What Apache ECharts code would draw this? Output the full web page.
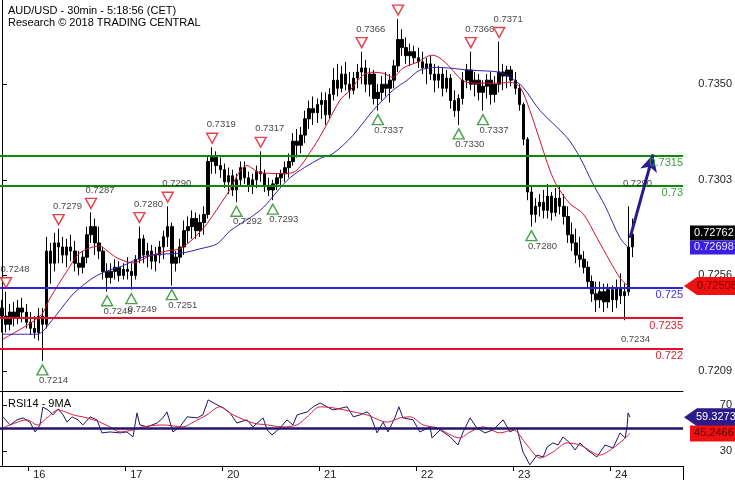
<!DOCTYPE html>
<html><head><meta charset="utf-8">
<script src="https://cdn.jsdelivr.net/npm/echarts@6/dist/echarts.min.js"></script>
<style>html,body{margin:0;padding:0;background:#fff}#c{width:735px;height:480px}</style>
</head><body><div id="c"></div>
<script>
// ---------- DATA ----------
const titleText = 'AUD/USD - 30min - 5:18:56 (CET)';
const subTitle = 'Research \u00a9 2018 TRADING CENTRAL';
const rsiTitle = 'RSI14 - 9MA';
const dayLabels = ['16','17','20','21','22','23','24'];
const dayStartIdx = [7, 31, 55, 79, 103, 127, 151];
const priceTicks = [0.7350, 0.7303, 0.7256, 0.7209];
const rsiTicks = [30, 50, 70];
const rsiTickLabels = [30, 70];
// candles: [open, high, low, close]
const candles = [
[.7240,.7244,.7228,.7236],[.7236,.7248,.7228,.7232],[.7232,.7242,.7229,.7238],[.7238,.7243,.7231,.7235],
[.7235,.7244,.7232,.7240],[.7240,.7245,.7233,.7238],[.7238,.7242,.7230,.7233],[.7233,.7238,.7227,.7230],
[.7230,.7236,.7225,.7228],[.7228,.7240,.7224,.7236],[.7236,.7240,.7214,.7232],[.7232,.7275,.7230,.7268],
[.7268,.7272,.7252,.7262],[.7262,.7277,.7258,.7272],[.7272,.7279,.7262,.7270],[.7270,.7275,.7262,.7266],
[.7266,.7274,.7260,.7270],[.7270,.7276,.7263,.7268],[.7268,.7273,.7258,.7262],[.7262,.7268,.7256,.7260],
[.7260,.7268,.7257,.7265],[.7265,.7280,.7262,.7276],[.7276,.7287,.7272,.7280],[.7280,.7284,.7266,.7272],
[.7272,.7280,.7264,.7268],[.7268,.7270,.7254,.7258],[.7258,.7262,.7248,.7255],[.7255,.7262,.7252,.7258],
[.7258,.7264,.7254,.7260],[.7260,.7263,.7253,.7256],[.7256,.7262,.7254,.7259],[.7259,.7265,.7254,.7258],
[.7258,.7262,.7249,.7256],[.7256,.7266,.7254,.7264],[.7264,.7280,.7262,.7274],[.7274,.7276,.7262,.7266],
[.7266,.7272,.7260,.7268],[.7268,.7271,.7259,.7263],[.7263,.7270,.7258,.7266],[.7266,.7273,.7262,.7270],
[.7270,.7278,.7264,.7275],[.7275,.7290,.7270,.7280],[.7280,.7282,.7251,.7262],[.7262,.7268,.7258,.7265],
[.7265,.7274,.7262,.7270],[.7270,.7283,.7266,.7278],[.7278,.7285,.7272,.7280],[.7280,.7288,.7274,.7284],
[.7284,.7287,.7274,.7278],[.7278,.7286,.7275,.7282],[.7282,.7290,.7276,.7286],[.7286,.7315,.7284,.7312],
[.7312,.7319,.7306,.7314],[.7314,.7317,.7306,.7310],[.7310,.7314,.7304,.7308],[.7308,.7311,.7299,.7302],
[.7302,.7309,.7296,.7305],[.7305,.7308,.7295,.7298],[.7298,.7306,.7292,.7303],[.7303,.7312,.7300,.7309],
[.7309,.7312,.7301,.7304],[.7304,.7307,.7297,.7300],[.7300,.7306,.7296,.7303],[.7303,.7310,.7299,.7307],
[.7307,.7317,.7302,.7306],[.7306,.7308,.7297,.7300],[.7300,.7304,.7295,.7298],[.7298,.7303,.7293,.7301],
[.7301,.7306,.7298,.7304],[.7304,.7308,.7300,.7306],[.7306,.7312,.7302,.7309],[.7309,.7316,.7304,.7312],
[.7312,.7326,.7310,.7322],[.7322,.7328,.7314,.7320],[.7320,.7329,.7316,.7325],[.7325,.7337,.7321,.7333],
[.7333,.7342,.7328,.7338],[.7338,.7344,.7330,.7336],[.7336,.7343,.7331,.7340],[.7340,.7346,.7333,.7342],
[.7342,.7346,.7330,.7335],[.7335,.7348,.7333,.7345],[.7345,.7358,.7342,.7352],[.7352,.7360,.7344,.7348],
[.7348,.7359,.7346,.7355],[.7355,.7361,.7347,.7350],[.7350,.7356,.7343,.7347],[.7347,.7356,.7345,.7353],
[.7353,.7360,.7348,.7356],[.7356,.7366,.7350,.7358],[.7358,.7362,.7346,.7350],[.7350,.7358,.7344,.7355],
[.7355,.7357,.7340,.7343],[.7343,.7350,.7337,.7346],[.7346,.7354,.7342,.7350],[.7350,.7356,.7344,.7348],
[.7348,.7355,.7341,.7352],[.7352,.7362,.7348,.7359],[.7359,.7382,.7356,.7372],[.7372,.7377,.7364,.7368],
[.7368,.7373,.7360,.7364],[.7364,.7370,.7359,.7366],[.7366,.7369,.7360,.7363],[.7363,.7368,.7358,.7361],
[.7361,.7366,.7355,.7358],[.7358,.7363,.7350,.7360],[.7360,.7364,.7352,.7355],[.7355,.7360,.7346,.7352],
[.7352,.7359,.7348,.7355],[.7355,.7358,.7344,.7348],[.7348,.7357,.7346,.7353],[.7353,.7355,.7338,.7342],
[.7342,.7347,.7334,.7337],[.7337,.7345,.7330,.7343],[.7343,.7356,.7340,.7352],[.7352,.7360,.7348,.7357],
[.7357,.7366,.7347,.7350],[.7350,.7356,.7344,.7352],[.7352,.7355,.7342,.7346],[.7346,.7352,.7337,.7349],
[.7349,.7355,.7343,.7352],[.7352,.7356,.7340,.7345],[.7345,.7354,.7341,.7350],[.7350,.7371,.7346,.7356],
[.7356,.7360,.7347,.7354],[.7354,.7359,.7348,.7357],[.7357,.7359,.7349,.7352],[.7352,.7356,.7345,.7348],
[.7348,.7350,.7337,.7340],[.7340,.7341,.7320,.7323],[.7323,.7324,.7293,.7297],[.7297,.7300,.7280,.7286],
[.7286,.7294,.7282,.7290],[.7290,.7296,.7285,.7292],[.7292,.7298,.7284,.7288],[.7288,.7301,.7284,.7295],
[.7295,.7297,.7283,.7287],[.7287,.7299,.7285,.7294],[.7294,.7300,.7286,.7290],[.7290,.7296,.7281,.7285],
[.7285,.7290,.7272,.7276],[.7276,.7282,.7268,.7272],[.7272,.7279,.7262,.7266],[.7266,.7275,.7260,.7264],
[.7264,.7268,.7257,.7260],[.7260,.7263,.7250,.7253],[.7253,.7256,.7243,.7247],[.7247,.7253,.7238,.7244],
[.7244,.7253,.7240,.7248],[.7248,.7252,.7238,.7243],[.7243,.7252,.7240,.7249],[.7249,.7251,.7238,.7244],
[.7244,.7254,.7240,.7250],[.7250,.7257,.7242,.7246],[.7246,.7252,.7234,.7248],[.7248,.7290,.7246,.7270],
[.7270,.7284,.7265,.72762]
];
const fastMA = [[0.2,.72247],[9.4,.72360],[11.9,.72449],[16.1,.72582],[19.3,.72671],[24.2,.72705],[26,.72681],[28.5,.72646],[32.4,.72622],[36.6,.72656],[40.8,.72681],[44,.72691],[47.3,.72740],[50.7,.72814],[55.7,.72960],[60.6,.73100],[63.8,.73066],[68.8,.73061],[72,.73066],[77,.73189],[80.2,.73297],[83.6,.73421],[86.1,.73470],[89.3,.73544],[91.8,.73559],[94.3,.73554],[96.7,.73534],[99.2,.73579],[102.7,.73608],[106.4,.73643],[108.4,.73628],[110.8,.73584],[113.3,.73529],[115.1,.73509],[119,.73505],[123.2,.73505],[125.7,.73510],[128.2,.73485],[130.6,.73371],[133.1,.73223],[135.6,.73075],[137.3,.73001],[140.5,.72913],[143.8,.72863],[147.2,.72745],[150.4,.72631],[152.9,.72548],[154.9,.72508]];
const slowMA = [[0.2,.72271],[8.7,.72271],[10.1,.72286],[13.6,.72370],[17.6,.72469],[22.5,.72548],[26,.72582],[29.9,.72607],[32.4,.72631],[35.9,.72656],[40.8,.72666],[44.8,.72671],[49,.72691],[53.2,.72715],[56.4,.72779],[61.4,.72844],[64.6,.72893],[71.3,.73041],[78.7,.73135],[81.9,.73159],[86.8,.73248],[91.8,.73371],[96.7,.73470],[100.2,.73519],[103.4,.73569],[107.6,.73583],[110.8,.73579],[115.8,.73569],[123.2,.73559],[125.7,.73534],[128.9,.73485],[133.1,.73371],[139.8,.73238],[143,.73140],[146.2,.73011],[149.2,.72903],[152.9,.72745],[154.9,.72698]];
const rsi = [[0.2,59.6],[2,52.6],[3.7,57],[5.2,58.7],[6.9,55],[8.2,46.5],[9.4,52.6],[10.1,68],[11.4,65.6],[12.6,61.3],[13.9,66.5],[15.1,61.3],[16.1,55],[17.3,59.6],[18.8,57],[20,52.6],[21.8,59.6],[23.5,57],[24.7,45.7],[26.7,46.5],[29.2,45.7],[30.9,46.5],[32.4,42.2],[33.4,63],[34.1,52.6],[35.9,50.9],[38.4,54.3],[39.8,58.7],[40.8,63.9],[42.3,46.5],[44,50.9],[45.8,59.6],[48.3,58.7],[49.7,61.3],[51,74.3],[53.2,70],[54.7,67.4],[56.4,63],[58.1,54.3],[60.6,57],[62.1,50.9],[64.6,58.7],[65.6,48.3],[66.8,43.9],[68.8,50],[70.5,57],[72,52.6],[73,61.3],[75.5,63.9],[77,68.3],[78.7,71.7],[80.4,68.3],[81.9,65.6],[85.4,68.3],[86.9,59.6],[88.6,61.3],[90.3,63.9],[91.1,61.3],[92.8,45.7],[94.3,55],[95.5,46.5],[97.2,58.7],[98.2,68.3],[99.2,58.7],[101.7,57],[103.4,46.5],[105.9,50.9],[106.4,41.3],[108.4,48.3],[110.9,42.2],[112.8,35.2],[114.1,46.5],[115.8,58.7],[117.5,50],[119.5,45.7],[121.5,48.3],[124,57],[125.7,46.5],[127.4,50],[128.9,29.1],[130.6,18],[132.4,26.5],[133.9,24.8],[134.9,33.5],[136.3,37],[137.6,35.2],[138.8,42.2],[140.5,37],[141.8,30.9],[143,37],[144.8,30.9],[147.2,24.8],[149.2,35.2],[151.2,32.6],[152.9,45.7],[154.2,41.3],[154.7,52.6],[154.9,63],[155.4,59.3273]];
const rsiMA = [[0.2,50],[2,52.6],[6.2,57],[8.7,52.6],[11.1,58.7],[13.9,65.6],[17.6,61.3],[21,58.7],[24.2,55],[26.7,50.9],[29.2,46.5],[32.4,48.3],[34.9,50.9],[39.8,52.6],[44.8,50.9],[47.3,55],[50.7,61.3],[53.9,68.3],[57.2,61.3],[62.1,54.3],[65.6,52.6],[69.5,50.9],[73,52.6],[75.5,59.6],[78.7,68.3],[81.9,67.4],[86.9,63.9],[90.3,61.3],[95.3,55],[98.5,58.7],[101,59.6],[104.2,52.6],[107.6,50],[113.3,41.3],[115.8,46.5],[119,50.9],[123.2,45.7],[126.4,48.3],[129.9,35.2],[133.1,23.9],[136.3,29.1],[139.8,37],[143,35.2],[148,26.5],[151.2,32.6],[153.7,39.6],[155.4,45.2466]];
const levels = [0.7315, 0.7300, 0.7250, 0.7235, 0.7220];
const levelLabels = ['0.7315', '0.73', '0.725', '0.7235', '0.722'];
const highIdx = [1, 14, 22, 34, 41, 52, 64, 89, 98, 116, 123];
const highVal = [0.7248, 0.7279, 0.7287, 0.7280, 0.7290, 0.7319, 0.7317, 0.7366, 0.7382, 0.7366, 0.7371];
const lowIdx = [10, 26, 32, 42, 58, 67, 93, 113, 119, 131];
const lowVal = [0.7214, 0.7248, 0.7249, 0.7251, 0.7292, 0.7293, 0.7337, 0.7330, 0.7337, 0.7280];
const openHighIdx = [155], openHighVal = [0.7290];
const openLowIdx = [154], openLowVal = [0.7234];
const arrowFrom = [155.4, 0.72745], arrowTo = [161.1, 0.73155];
const lastClose = 0.72762, lastSlow = 0.72698, lastFast = 0.72508;
const lastRSI = 59.3273, lastRSIMA = 45.2466;

// ---------- CHART ----------
const N = 169;
const cats = Array.from({length: N}, (_, i) => String(i));
const FONT = "'Liberation Sans', Arial, sans-serif";
const GREEN = '#0b8a0b', BLUE = '#2b24d8', RED = '#e3102a';
const levelColors = [GREEN, GREEN, BLUE, RED, RED];
const levelTextColors = ['#3a9f3a', '#3a9f3a', '#3b30e0', '#e0202e', '#e0202e'];
const chart = echarts.init(document.getElementById('c'), null, {renderer: 'canvas'});

const dayTickPos = dayStartIdx.map(d => d - 0.5);
const dayLabelPos = dayStartIdx.map(d => d + 0.7);

const hiLabels = highIdx.map((x, k) => [x, highVal[k]]).concat(openHighIdx.map((x, k) => [x, openHighVal[k]]));
const loLabels = lowIdx.map((x, k) => [x, lowVal[k]]).concat(openLowIdx.map((x, k) => [x, openLowVal[k]]));

const option = {
  animation: false,
  backgroundColor: '#fff',
  title: [
    {text: titleText + '\n' + subTitle, left: 3, top: 0, textStyle: {fontSize: 11, fontWeight: 'normal', color: '#000', fontFamily: FONT, lineHeight: 12}},
    {text: rsiTitle, left: 3, top: 393, textStyle: {fontSize: 11, fontWeight: 'normal', color: '#000', fontFamily: FONT}}
  ],
  grid: [
    {left: 0, top: 0, width: 683, height: 391},
    {left: 0, top: 391, width: 683, height: 75}
  ],
  xAxis: [
    {type: 'category', gridIndex: 0, data: cats, boundaryGap: true,
     axisLine: {show: true, lineStyle: {color: '#000', width: 1}}, axisTick: {show: false}, axisLabel: {show: false}, splitLine: {show: false}},
    {type: 'value', gridIndex: 0, min: -0.5, max: N - 0.5, show: false},
    {type: 'value', gridIndex: 1, min: -0.5, max: N - 0.5,
     axisLine: {show: true, lineStyle: {color: '#000', width: 1}},
     axisTick: {show: true, length: 5, customValues: dayTickPos, lineStyle: {color: '#000'}},
     axisLabel: {show: true, customValues: dayLabelPos, align: 'left', margin: 3, fontSize: 11, color: '#222', fontFamily: FONT,
       formatter: v => { const k = dayLabelPos.findIndex(p => Math.abs(p - v) < 0.01); return k >= 0 ? dayLabels[k] : ''; }},
     splitLine: {show: false}}
  ],
  yAxis: [
    {type: 'value', gridIndex: 0, position: 'right', min: 0.71992, max: 0.73914,
     axisLine: {show: true, lineStyle: {color: '#000'}},
     axisTick: {show: true, length: 5, customValues: priceTicks, lineStyle: {color: '#000'}},
     axisLabel: {customValues: priceTicks, formatter: v => v.toFixed(4), align: 'right', margin: 49, fontSize: 11, color: '#222', fontFamily: FONT},
     splitLine: {show: false}},
    {type: 'value', gridIndex: 1, position: 'right', min: 17, max: 82,
     axisLine: {show: true, lineStyle: {color: '#000'}},
     axisTick: {show: true, length: 5, customValues: rsiTicks, lineStyle: {color: '#000'}},
     axisLabel: {customValues: rsiTickLabels, formatter: v => String(v), align: 'right', margin: 49, fontSize: 11, color: '#222', fontFamily: FONT},
     splitLine: {show: false}}
  ],
  series: [
    {type: 'candlestick', xAxisIndex: 0, yAxisIndex: 0, barWidth: 3, z: 2,
     data: candles.map(r => [r[0], r[3], r[2], r[1]]),
     itemStyle: {color: '#000', color0: '#000', borderColor: '#000', borderColor0: '#000', borderWidth: 1}},
    {type: 'line', name: 'fast', xAxisIndex: 1, yAxisIndex: 0, data: fastMA, showSymbol: false, symbol: 'none', smooth: 0.3, z: 3,
     lineStyle: {color: '#d0102e', width: 1},
     markLine: {silent: true, symbol: ['none', 'none'], animation: false, precision: 6,
       data: levels.map((v, k) => ({yAxis: v,
         lineStyle: {color: levelColors[k], width: 2, type: 'solid'},
         label: {show: true, position: 'insideEndBottom', distance: [0, 2], formatter: levelLabels[k], color: levelTextColors[k], fontSize: 11, fontFamily: FONT}}))}},
    {type: 'line', name: 'slow', xAxisIndex: 1, yAxisIndex: 0, data: slowMA, showSymbol: false, symbol: 'none', smooth: 0.3, z: 3,
     lineStyle: {color: '#3522b0', width: 1},
     markLine: {silent: true, symbol: ['none', 'arrow'], symbolSize: [13, 17], animation: false, precision: 6,
       lineStyle: {color: '#2a1a90', width: 3, type: 'solid'}, label: {show: false},
       data: [[{coord: arrowFrom}, {coord: arrowTo}]]}},
    {type: 'scatter', xAxisIndex: 0, yAxisIndex: 0, z: 5,
     data: highIdx.map((x, k) => [x, highVal[k]]),
     symbol: 'path://M0,0L10,0L5,9Z', symbolSize: [11, 10], symbolOffset: [0, -9],
     itemStyle: {color: '#fff', borderColor: '#e0101e', borderWidth: 1.4}},
    {type: 'scatter', xAxisIndex: 0, yAxisIndex: 0, z: 5,
     data: lowIdx.map((x, k) => [x, lowVal[k]]),
     symbol: 'path://M5,0L10,9L0,9Z', symbolSize: [11, 10], symbolOffset: [0, 9],
     itemStyle: {color: '#fff', borderColor: '#1d8a1d', borderWidth: 1.4}},
    {type: 'scatter', xAxisIndex: 0, yAxisIndex: 0, z: 6, data: hiLabels, symbolSize: 1,
     itemStyle: {color: 'rgba(0,0,0,0)'},
     label: {show: true, position: [-5, -27], formatter: p => p.value[1].toFixed(4), fontSize: 9.5, color: '#111', fontFamily: FONT}},
    {type: 'scatter', xAxisIndex: 0, yAxisIndex: 0, z: 6, data: loLabels, symbolSize: 1,
     itemStyle: {color: 'rgba(0,0,0,0)'},
     label: {show: true, position: [-3, 15], formatter: p => p.value[1].toFixed(4), fontSize: 9.5, color: '#111', fontFamily: FONT}},
    {type: 'line', name: 'rsi', xAxisIndex: 2, yAxisIndex: 1, data: rsi, showSymbol: false, symbol: 'none', z: 4,
     lineStyle: {color: '#1e1468', width: 1},
     markLine: {silent: true, symbol: ['none', 'none'], animation: false, label: {show: false},
       lineStyle: {color: '#23146e', width: 2.5, type: 'solid'}, data: [{yAxis: 50}]}},
    {type: 'line', name: 'rsima', xAxisIndex: 2, yAxisIndex: 1, data: rsiMA, showSymbol: false, symbol: 'none', smooth: 0.3, z: 4,
     lineStyle: {color: '#d3203a', width: 1}}
  ]
};
chart.setOption(option);

// value tags on the right axis
const py = v => chart.convertToPixel({yAxisIndex: 0}, v);
const ry = v => chart.convertToPixel({yAxisIndex: 1}, v);
const tagText = (x, y, txt, color) => ({type: 'text', z: 101, x: x, y: y,
  style: {text: txt, fill: color, font: '11px ' + FONT, textVerticalAlign: 'middle', verticalAlign: 'middle'}});
const ySlow = py(lastSlow), yClose = py(lastClose), yFast = py(lastFast);
const slowTop = ySlow - 7;
const closeBottom = Math.min(yClose + 7.5, slowTop);
const yR = ry(lastRSI), yRM = ry(lastRSIMA);
const arrowTag = (y, fill) => ({type: 'polygon', z: 100,
  shape: {points: [[684, y], [697, y - 9], [735, y - 9], [735, y + 9], [697, y + 9]]}, style: {fill: fill}});
chart.setOption({graphic: [
  {type: 'rect', z: 100, shape: {x: 690, y: closeBottom - 15, width: 45, height: 15}, style: {fill: '#000'}},
  tagText(694, closeBottom - 7.5, lastClose.toFixed(5), '#fff'),
  {type: 'rect', z: 100, shape: {x: 690, y: slowTop, width: 45, height: 14}, style: {fill: '#3b1fe0'}},
  tagText(694, slowTop + 7, lastSlow.toFixed(5), '#e8e4ff'),
  arrowTag(yFast, '#ee1111'),
  tagText(697, yFast, lastFast.toFixed(5), '#7a0000'),
  arrowTag(yR, '#2a1a8a'),
  tagText(696, yR, lastRSI.toFixed(4), '#fff'),
  {type: 'rect', z: 100, shape: {x: 690, y: yRM - 8, width: 45, height: 16}, style: {fill: '#ee1111'}},
  tagText(694, yRM, lastRSIMA.toFixed(4), '#5a0000'),
  {type: 'line', z: 100, shape: {x1: 683.5, y1: 466, x2: 683.5, y2: 480}, style: {stroke: '#000', lineWidth: 1}}
]});
</script>
</body></html>
